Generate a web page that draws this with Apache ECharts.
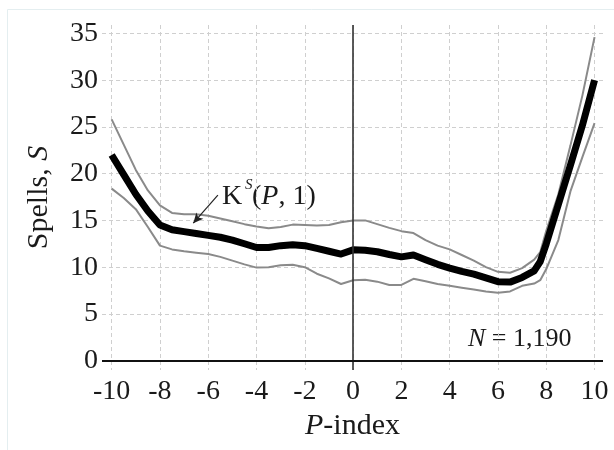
<!DOCTYPE html>
<html>
<head>
<meta charset="utf-8">
<script src="https://cdn.jsdelivr.net/npm/echarts@6/dist/echarts.min.js"></script>
<style>html,body{margin:0;padding:0;background:#fff}#c{width:614px;height:450px}</style>
</head>
<body>
<div id="c"></div>
<script>
var pIndex = [-10,-9.5,-9,-8.5,-8,-7.5,-7,-6.5,-6,-5.5,-5,-4.5,-4,-3.5,-3,-2.5,-2,-1.5,-1,-0.5,0,0.5,1,1.5,2,2.5,3,3.5,4,4.5,5,5.5,6,6.5,7,7.5,7.75,8,8.5,9,9.5,10];
var kernel = [22.0,19.9,17.8,16.0,14.5,14.0,13.8,13.6,13.4,13.2,12.9,12.5,12.1,12.1,12.3,12.4,12.3,12.0,11.7,11.4,11.85,11.8,11.65,11.35,11.1,11.3,10.8,10.3,9.9,9.55,9.25,8.85,8.45,8.4,8.9,9.6,10.6,12.5,16.7,20.9,25.2,30.0];
var upperBand = [25.8,23.1,20.4,18.2,16.6,15.8,15.65,15.65,15.5,15.2,14.9,14.6,14.35,14.15,14.3,14.55,14.5,14.45,14.5,14.8,15.0,15.0,14.6,14.2,13.85,13.65,12.9,12.3,11.9,11.3,10.7,10.0,9.5,9.4,9.9,10.8,11.6,13.9,17.8,23.0,28.4,34.6];
var lowerBand = [18.4,17.4,16.2,14.3,12.3,11.9,11.7,11.55,11.4,11.1,10.7,10.3,9.95,10.0,10.2,10.25,10.0,9.3,8.8,8.2,8.6,8.65,8.45,8.1,8.1,8.75,8.5,8.2,8.0,7.8,7.6,7.4,7.25,7.4,8.0,8.25,8.6,9.8,12.9,18.1,21.8,25.4];
var xTicks = [-10,-8,-6,-4,-2,0,2,4,6,8,10];
var yTicks = [0,5,10,15,20,25,30,35];
var arrowFrom = [-5.6, 17.7];
var arrowTo = [-6.62, 14.7];

function pairs(xs, ys){ return xs.map(function(x,i){ return [x, ys[i]]; }); }

var FONT = 'Liberation Serif';
var gridLine = { show: true, lineStyle: { color: '#cfcfcf', width: 1, type: [4,3] } };

var chart = echarts.init(document.getElementById('c'), null, { renderer: 'canvas' });
chart.setOption({
  animation: false,
  backgroundColor: '#fff',
  grid: { left: 102, right: 11, top: 25, bottom: 80, containLabel: false },
  xAxis: {
    type: 'value', min: -10.4, max: 10.35,
    axisLine: { show: false }, axisTick: { show: false, customValues: xTicks },
    axisLabel: { customValues: xTicks, margin: 8, fontFamily: FONT, fontSize: 28, color: '#1a1a1a', formatter: function(v){ return String(v); } },
    splitLine: gridLine,
    name: '{i|P}-index', nameLocation: 'middle', nameGap: 40,
    nameTextStyle: { fontFamily: FONT, fontSize: 30, color: '#1a1a1a', rich: { i: { fontFamily: FONT, fontSize: 30, fontStyle: 'italic', color: '#1a1a1a' } } }
  },
  yAxis: {
    type: 'value', min: -1, max: 35.9,
    axisLine: { show: false }, axisTick: { show: false, customValues: yTicks },
    axisLabel: { customValues: yTicks, margin: 4, fontFamily: FONT, fontSize: 28, color: '#1a1a1a' },
    splitLine: gridLine,
    name: 'Spells, {i|S}', nameLocation: 'middle', nameGap: 48,
    nameTextStyle: { fontFamily: FONT, fontSize: 30, color: '#1a1a1a', rich: { i: { fontFamily: FONT, fontSize: 30, fontStyle: 'italic', color: '#1a1a1a' } } }
  },
  series: [
    { type: 'line', data: pairs(pIndex, upperBand), symbol: 'none', lineStyle: { color: '#8a8a8a', width: 2 }, z: 3 },
    { type: 'line', data: pairs(pIndex, lowerBand), symbol: 'none', lineStyle: { color: '#8a8a8a', width: 2 }, z: 3 },
    { type: 'line', data: pairs(pIndex, kernel), symbol: 'none', lineStyle: { color: '#000', width: 7, cap: 'butt', join: 'round' }, z: 4,
      markLine: {
        silent: true, animation: false, label: { show: false },
        data: [
          [{ coord: arrowFrom, symbol: 'none' }, { coord: arrowTo, symbol: 'arrow', symbolSize: [7, 10] }]
        ],
        lineStyle: { color: '#222', width: 1.2, type: 'solid' }
      }
    },
    { type: 'line', data: [], markLine: {
        silent: true, symbol: 'none', animation: false, label: { show: false },
        data: [
          { xAxis: 0, lineStyle: { color: '#333', width: 1.6, type: 'solid' } },
          { yAxis: 0, lineStyle: { color: '#111', width: 2, type: 'solid' } }
        ]
      }, z: 2 }
  ],
  graphic: [
    { type: 'rect', shape: { x: 7.5, y: 9.5, width: 640, height: 480 }, style: { fill: 'none', stroke: '#e4eef0', lineWidth: 1 }, silent: true },
    { type: 'text', x: 222, y: 197, style: { text: 'K', font: '28px "Liberation Serif"', fill: '#1a1a1a', verticalAlign: 'middle' } },
    { type: 'text', x: 245, y: 185, style: { text: 'S', font: 'italic 15px "Liberation Serif"', fill: '#1a1a1a', verticalAlign: 'middle' } },
    { type: 'text', x: 252, y: 197, style: { text: '({i|P}, 1)', font: '28px "Liberation Serif"', fill: '#1a1a1a', verticalAlign: 'middle',
        rich: { i: { fontFamily: FONT, fontSize: 28, fontStyle: 'italic', fill: '#1a1a1a' } } } },
    { type: 'text', x: 468, y: 339, style: { text: '{i|N} = 1,190', font: '26px "Liberation Serif"', fill: '#1a1a1a', verticalAlign: 'middle',
        rich: { i: { fontFamily: FONT, fontSize: 26, fontStyle: 'italic', fill: '#1a1a1a' } } } }
  ]
});
</script>
</body>
</html>
